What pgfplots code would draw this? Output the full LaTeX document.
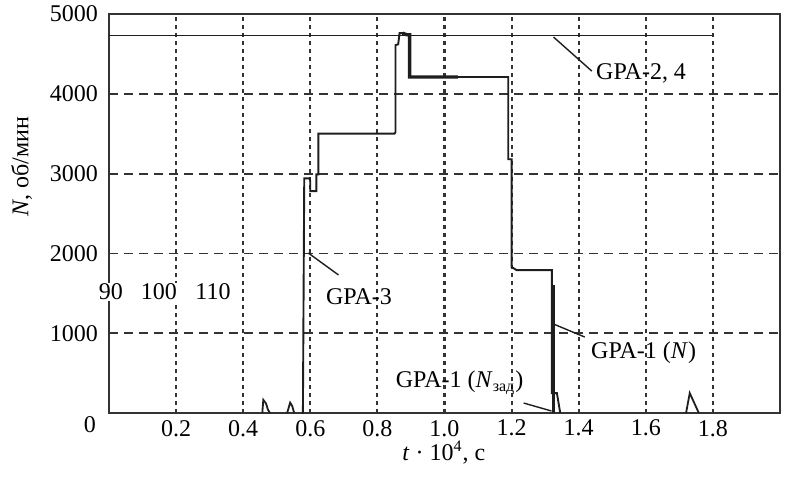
\documentclass[border=0pt]{standalone}
\usepackage{fontspec}
\setmainfont{Liberation Serif}
\usepackage{pgfplots}
\pgfplotsset{compat=1.18}
\definecolor{ink}{HTML}{1E1E1E}
\begin{document}
\begin{tikzpicture}[font=\fontsize{12}{14}\selectfont]
\begin{axis}[
    scale only axis,
    width=335.5pt, height=199.5pt,
    xmin=0, xmax=2, ymin=0, ymax=5000,
    axis line style={line width=1.1pt, black!80},
    xtick={0.2,0.4,0.6,0.8,1.0,1.2,1.4,1.6,1.8},
    xticklabels={0.2,0.4,0.6,0.8,1.0,1.2,1.4,1.6,1.8},
    ytick={1000,2000,3000,4000,5000},
    yticklabels={1000,2000,3000,4000,5000},
    yticklabel style={xshift=-2pt},
    major tick length=0pt,
    grid=major,
    major x grid style={black!80, line width=1.1pt, dash pattern=on 2pt off 2pt},
    major y grid style={black!80, line width=0.9pt, dash pattern=on 4.5pt off 3pt},
    clip=false,
]
% GPA-2, 4
\addplot[ink, line width=0.9pt] coordinates {(0,4730) (1.8,4730)};
% small bumps near t = 0.5
\addplot[ink, line width=0.9pt] coordinates {
    (0.457,0) (0.46,165) (0.468,120) (0.474,40) (0.48,0)};
\addplot[ink, line width=0.9pt] coordinates {
    (0.531,0) (0.54,130) (0.546,90) (0.552,0)};
% GPA-3 / GPA-1 (N)
\addplot[ink, line width=0.95pt] coordinates {
    (0.574,0) (0.578,0) (0.582,2940) (0.598,2940) (0.6,2900) (0.6,2780)
    (0.618,2780) (0.618,2990) (0.624,2990) (0.624,3500) (0.851,3500)
    (0.854,3520) (0.854,4610) (0.862,4620) (0.866,4760) (0.875,4760)
    (0.887,4740) (0.896,4740) (0.896,4210) (1.19,4210) (1.19,3180)
    (1.2,3180) (1.2,1830) (1.215,1790) (1.32,1790) (1.32,250)
    (1.325,250) (1.335,250) (1.345,0)};
% thick parts
\addplot[ink, line width=1.7pt] coordinates {
    (0.875,4760) (0.887,4740) (0.896,4740) (0.896,4210) (1.04,4210)};
\addplot[ink, line width=1.7pt] coordinates {(1.325,1600) (1.325,0)};
% bump near t = 1.73
\addplot[ink, line width=0.9pt] coordinates {
    (1.72,0) (1.731,250) (1.745,120) (1.758,0)};

% leaders and labels
\draw[ink, line width=0.7pt] (axis cs:1.325,4711) -- (axis cs:1.439,4285);
\node[anchor=west, inner sep=1pt] at (axis cs:1.445,4260) {GPA-2, 4};
\draw[ink, line width=0.7pt] (axis cs:0.594,2005) -- (axis cs:0.684,1730);
\node[anchor=west, inner sep=1pt] at (axis cs:0.64,1453) {GPA-3};
\draw[ink, line width=0.7pt] (axis cs:1.325,1115) -- (axis cs:1.418,952);
\node[anchor=west, inner sep=1pt] at (axis cs:1.43,752) {GPA-1 (\textit{N})};
\draw[ink, line width=0.7pt] (axis cs:1.236,125) -- (axis cs:1.319,25);
\node[anchor=west, inner sep=1pt] at (axis cs:0.848,376) {GPA-1 (\textit{N}\textsubscript{зад})};

\node[fill=white, inner sep=0.5pt] at (axis cs:0.006,1516) {90};
\node[fill=white, inner sep=0.5pt] at (axis cs:0.149,1516) {100};
\node[fill=white, inner sep=0.5pt] at (axis cs:0.31,1516) {110};

\node at (rel axis cs:-0.0283,-0.0301) {0};
\node[rotate=90] at (rel axis cs:-0.13,0.617) {\textit{N}, об/мин};
\node at (rel axis cs:0.499,-0.1) {\textit{t} · 10\textsuperscript{4}, с};

\coordinate (bbA) at (rel axis cs:-0.1624,-0.1604);
\coordinate (bbB) at (rel axis cs:1.00745,1.0351);
\end{axis}
\pgfresetboundingbox
\useasboundingbox (bbA) rectangle (bbB);
\end{tikzpicture}
\end{document}
